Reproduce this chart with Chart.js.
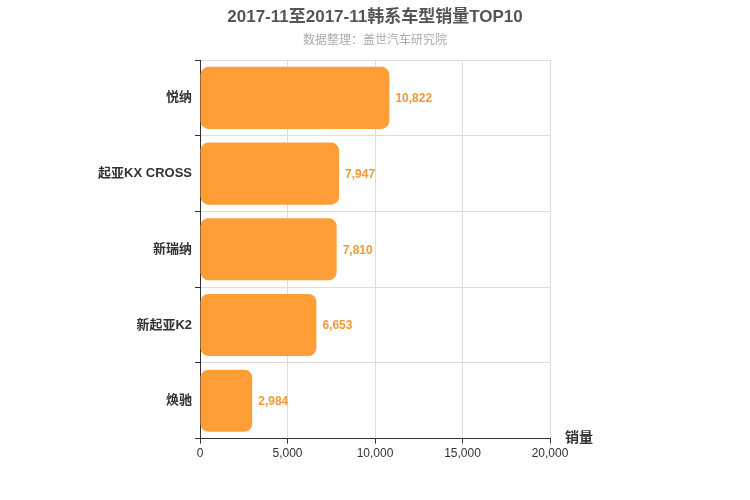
<!DOCTYPE html>
<html><head><meta charset="utf-8">
<script src="https://cdn.jsdelivr.net/npm/chart.js@4"></script>
<style>body{margin:0;background:#fff}#w{width:750px;height:500px}</style>
</head><body><div id="w"><canvas id="c"></canvas></div>
<script>
const categories=["悦纳","起亚KX CROSS","新瑞纳","新起亚K2","焕驰"];
const sales=[10822,7947,7810,6653,2984];
const xTicks=[0,5000,10000,15000,20000];
const F='"Liberation Sans", "Noto Sans CJK SC", sans-serif';
const extra={id:'extra',afterDatasetsDraw(ch){
  const {ctx}=ch;const m=ch.getDatasetMeta(0);
  ctx.save();ctx.font='bold 12px '+F;ctx.fillStyle='#f39a35';ctx.textBaseline='middle';
  m.data.forEach((b,i)=>ctx.fillText(sales[i].toLocaleString('en-US'),b.x+6,b.y+1));
  ctx.fillStyle='#333';ctx.font='bold 14px '+F;ctx.textAlign='left';
  ctx.fillText('销量',ch.chartArea.right+15,ch.chartArea.bottom);
  ctx.textAlign='center';ctx.fillStyle='#555';ctx.font='bold 17px '+F;
  ctx.fillText('2017-11至2017-11韩系车型销量TOP10',375,17);
  ctx.fillStyle='#aaa';ctx.font='12px '+F;
  ctx.fillText('数据整理：盖世汽车研究院',375,41);
  ctx.restore();}};
new Chart(document.getElementById('c'),{type:'bar',
data:{labels:categories,datasets:[{data:sales,backgroundColor:'#ff9d36',borderRadius:8,borderSkipped:false,categoryPercentage:0.82,barPercentage:1}]},
options:{indexAxis:'y',responsive:true,maintainAspectRatio:false,animation:false,
layout:{padding:{left:0,right:200,top:60,bottom:36}},
plugins:{legend:{display:false},tooltip:{enabled:false}},
scales:{x:{min:0,max:20000,afterBuildTicks(a){a.ticks=xTicks.map(v=>({value:v}));},
ticks:{color:'#333',font:{size:12,family:F},callback:v=>v.toLocaleString('en-US')},
grid:{color:'#ddd',tickColor:'#333',tickLength:5},border:{color:'#333'}},
y:{ticks:{color:'#333',font:{size:13,weight:'bold',family:F}},grid:{color:'#ddd',offset:true,tickColor:'#333',tickLength:5},border:{color:'#333'},
afterFit(a){a.width=200;}}}},
plugins:[extra]});
</script></body></html>
